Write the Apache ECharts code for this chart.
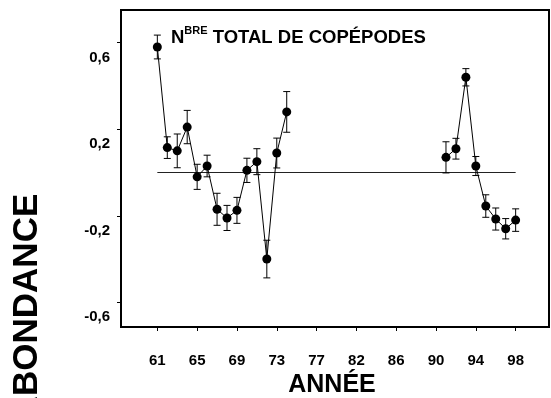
<!DOCTYPE html>
<html>
<head>
<meta charset="utf-8">
<script src="https://cdn.jsdelivr.net/npm/echarts@6/dist/echarts.min.js"></script>
<style>
  html, body { margin: 0; padding: 0; background: #fff; }
  #chart { width: 551px; height: 398px; }
</style>
</head>
<body>
<div id="chart"></div>
<script>
// Total copepod abundance index (mean ± error), two sampling periods
const yearsEarly  = [61, 62, 63, 64, 65, 66, 67, 68, 69, 70, 71, 72, 73, 74];
const valuesEarly = [0.58, 0.115, 0.10, 0.21, -0.02, 0.03, -0.17, -0.21, -0.175, 0.01, 0.05, -0.40, 0.09, 0.28];
const errorsEarly = [0.055, 0.05, 0.078, 0.077, 0.058, 0.05, 0.074, 0.058, 0.06, 0.056, 0.06, 0.087, 0.069, 0.094];

const yearsLate  = [91, 92, 93, 94, 95, 96, 97, 98];
const valuesLate = [0.07, 0.11, 0.44, 0.03, -0.155, -0.215, -0.26, -0.22];
const errorsLate = [0.072, 0.048, 0.04, 0.044, 0.052, 0.051, 0.047, 0.052];

// Reference level and the span of years it covers
const referenceLevel = 0;
const referenceYears = [61, 98];

// Axis ticks
const tickYears = [61, 65, 69, 73, 77, 82, 86, 90, 94, 98];
const yTicks = [-0.6, -0.2, 0.2, 0.6];

// The year axis has no slot for 1981, so positions after 1980 shift by one
function axisPos(year) { return year <= 80 ? year - 61 : year - 62; }
function posToYear(p) { return p <= 19 ? p + 61 : p + 62; }

const FONT = '"Liberation Sans", Arial, Helvetica, sans-serif';

function points(years, values) { return years.map((y, i) => [axisPos(y), values[i]]); }
function bars(years, values, errs) { return years.map((y, i) => [axisPos(y), values[i], errs[i]]); }

const chart = echarts.init(document.getElementById('chart'), null, { renderer: 'canvas' });

function errorBar(params, api) {
  const x = api.value(0), y = api.value(1), e = api.value(2);
  const top = api.coord([x, y + e]);
  const bot = api.coord([x, y - e]);
  const hw = 3.5;
  const st = { stroke: '#000', lineWidth: 1 };
  return {
    type: 'group',
    children: [
      { type: 'line', shape: { x1: top[0], y1: top[1], x2: bot[0], y2: bot[1] }, style: st },
      { type: 'line', shape: { x1: top[0] - hw, y1: top[1], x2: top[0] + hw, y2: top[1] }, style: st },
      { type: 'line', shape: { x1: bot[0] - hw, y1: bot[1], x2: bot[0] + hw, y2: bot[1] }, style: st }
    ]
  };
}

const lineStyleCommon = {
  type: 'line',
  symbol: 'circle',
  symbolSize: 9,
  itemStyle: { color: '#000' },
  lineStyle: { color: '#000', width: 1 },
  z: 4
};

chart.setOption({
  animation: false,
  backgroundColor: '#fff',
  grid: {
    left: 121, top: 10, width: 428, height: 317,
    show: true, borderColor: '#000', borderWidth: 2
  },
  xAxis: {
    type: 'value',
    min: -3.65, max: 39.35,
    splitLine: { show: false },
    axisLine: { show: true, onZero: false, lineStyle: { color: '#000', width: 2 } },
    axisTick: {
      show: true, length: 4, inside: false,
      customValues: tickYears.map(axisPos),
      lineStyle: { color: '#000', width: 1 }
    },
    axisLabel: {
      customValues: tickYears.map(axisPos),
      formatter: v => String(posToYear(Math.round(v))),
      margin: 26,
      color: '#000',
      fontFamily: FONT, fontWeight: 'bold', fontSize: 15
    }
  },
  yAxis: {
    type: 'value',
    min: -0.714, max: 0.751,
    splitLine: { show: false },
    axisLine: { show: true, onZero: false, lineStyle: { color: '#000', width: 2 } },
    axisTick: {
      show: true, length: 4, inside: false,
      customValues: yTicks,
      lineStyle: { color: '#000', width: 1 }
    },
    axisLabel: {
      customValues: yTicks,
      // labels sit half a line below their tick
      formatter: v => '\n' + v.toFixed(1).replace('.', ','),
      lineHeight: 30,
      margin: 11,
      verticalAlign: 'middle',
      color: '#000',
      fontFamily: FONT, fontWeight: 'bold', fontSize: 15
    }
  },
  graphic: [
    {
      type: 'text',
      x: 171, y: 36,
      style: {
        text: '{a|N}{b|BRE}{a| TOTAL DE COPÉPODES}',
        textVerticalAlign: 'middle',
        textAlign: 'left',
        rich: {
          a: { font: 'bold 18.5px ' + FONT, fill: '#000', lineHeight: 22, verticalAlign: 'bottom' },
          b: { font: 'bold 11px ' + FONT, fill: '#000', lineHeight: 22, verticalAlign: 'top' }
        }
      },
      z: 10
    },
    {
      type: 'text',
      x: 332, y: 385,
      style: {
        text: 'ANNÉE',
        font: 'bold 25px ' + FONT,
        fill: '#000',
        textAlign: 'center',
        textVerticalAlign: 'middle'
      },
      z: 10
    },
    {
      type: 'text',
      x: 27, y: 307.5,
      rotation: Math.PI / 2,
      style: {
        text: 'ABONDANCE',
        font: 'bold 35px ' + FONT,
        fill: '#000',
        textAlign: 'center',
        textVerticalAlign: 'middle'
      },
      z: 10
    }
  ],
  series: [
    {
      type: 'line',
      data: referenceYears.map(y => [axisPos(y), referenceLevel]),
      symbol: 'none',
      lineStyle: { color: '#222', width: 1 },
      silent: true,
      z: 2
    },
    {
      type: 'custom',
      renderItem: errorBar,
      data: bars(yearsEarly, valuesEarly, errorsEarly),
      encode: { x: 0, y: 1 },
      z: 3
    },
    {
      type: 'custom',
      renderItem: errorBar,
      data: bars(yearsLate, valuesLate, errorsLate),
      encode: { x: 0, y: 1 },
      z: 3
    },
    Object.assign({ data: points(yearsEarly, valuesEarly) }, lineStyleCommon),
    Object.assign({ data: points(yearsLate, valuesLate) }, lineStyleCommon)
  ]
});
</script>
</body>
</html>
